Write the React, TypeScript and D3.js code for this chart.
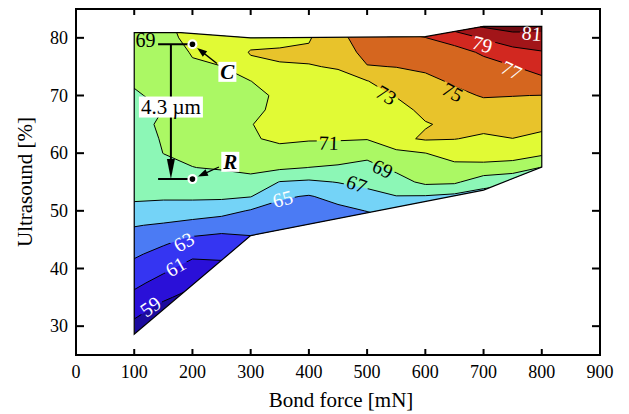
import React from "react";
import * as d3 from "d3";

// Bond force columns [mN] and ultrasound rows [%] of the sampled field
const forces = [100, 150, 200, 250, 300, 350, 400, 450, 500, 550, 600, 650, 700, 750, 800];
const ultrasound = [25, 27.5, 30, 32.5, 35, 37.5, 40, 42.5, 45, 47.5, 50, 52.5, 55, 57.5, 60, 62.5, 65, 67.5, 70, 72.5, 75, 77.5, 80, 82.5, 85];

// value at each (force, ultrasound); one array per bond force, bottom to top
const f100 = [56.5, 57.5, 58.5, 59.5, 60.5, 61.44, 62.37, 63.29, 64.18, 65.1, 66.38, 67.35, 67.5, 67.63, 67.87, 68.12, 68.37, 68.62, 68.87, 69.13, 69.39, 69.33, 69.06, 68.8, 68.6];
const f150 = [55.1, 56.14, 57.19, 58.24, 59.29, 60.35, 61.38, 62.37, 63.47, 64.79, 66.2, 67.27, 67.88, 68.49, 69.02, 69.16, 69.3, 69.01, 69.27, 69.58, 69.9, 70.12, 70.33, 70.52, 70.7];
const f200 = [54.2, 55.2, 56.3, 57.3, 58.37, 59.38, 60.32, 61.35, 62.62, 64.32, 66.03, 67.33, 68.16, 68.98, 69.25, 69.51, 69.77, 70.03, 70.29, 70.55, 70.8, 71.12, 71.6, 71.95, 72.3];
const f250 = [54.6, 55.6, 56.55, 57.5, 58.5, 59.47, 60.45, 61.43, 62.41, 63.8, 65.74, 67.34, 68.4, 69.12, 69.39, 69.66, 69.92, 70.19, 70.46, 70.73, 70.98, 71.46, 71.93, 72.2, 72.5];
const f300 = [54.1, 55.1, 56.2, 57.3, 58.4, 59.45, 60.5, 61.6, 62.7, 63.77, 64.83, 67.08, 68.47, 69.42, 70.1, 70.78, 70.95, 70.85, 70.9, 70.98, 72.44, 73.15, 72.2, 72.0, 71.9];
const f350 = [56.1, 56.9, 57.7, 58.6, 59.4, 60.2, 61.0, 61.85, 62.67, 63.49, 64.31, 65.27, 66.93, 69.33, 70.26, 71.39, 71.5, 71.15, 71.06, 71.98, 72.85, 73.3, 72.3, 72.1, 72.0];
const f400 = [55.5, 56.35, 57.2, 58.05, 58.9, 59.75, 60.6, 61.45, 62.3, 63.17, 64.02, 64.86, 66.68, 68.98, 70.25, 71.14, 71.5, 71.86, 72.22, 72.58, 72.94, 73.25, 72.85, 72.6, 72.4];
const f450 = [55.8, 56.6, 57.5, 58.4, 59.3, 60.1, 61.0, 61.9, 62.75, 63.63, 64.5, 65.63, 67.07, 68.73, 70.14, 71.14, 71.52, 71.9, 72.28, 72.66, 73.08, 73.76, 74.45, 75.1, 75.8];
const f500 = [55.0, 56.0, 57.0, 58.0, 58.9, 60.0, 60.9, 62.0, 62.9, 64.0, 65.05, 66.4, 67.5, 68.39, 69.57, 71.09, 71.56, 72.02, 72.48, 72.94, 74.9, 75.7, 76.0, 76.3, 76.7];
const f550 = [55.6, 56.6, 57.6, 58.6, 59.6, 60.6, 61.6, 62.6, 63.6, 64.6, 65.7, 66.95, 68.23, 69.43, 70.49, 72.6, 71.88, 72.47, 73.08, 74.06, 75.04, 75.93, 76.83, 77.3, 77.8];
const f600 = [54.5, 55.6, 56.7, 57.9, 59.1, 60.1, 61.2, 62.4, 63.5, 64.6, 65.74, 66.87, 69.44, 70.22, 70.98, 73.2, 72.9, 73.37, 73.99, 74.6, 75.3, 76.13, 76.97, 77.8, 78.6];
const f650 = [54.1, 55.2, 56.4, 57.5, 58.6, 59.8, 60.9, 62.0, 63.1, 64.2, 65.4, 66.5, 69.33, 70.5, 71.75, 73.05, 73.3, 74.0, 74.6, 75.22, 75.89, 76.4, 77.7, 80.6, 82.0];
const f700 = [53.7, 54.8, 55.9, 57.1, 58.2, 59.3, 60.5, 61.6, 62.7, 63.85, 64.98, 66.1, 67.77, 70.55, 71.75, 72.7, 73.54, 74.34, 75.12, 75.77, 76.42, 77.23, 79.2, 81.7, 83.5];
const f750 = [53.6, 54.7, 55.8, 56.9, 58.1, 59.2, 60.3, 61.5, 62.6, 63.7, 64.85, 65.97, 67.24, 70.2, 71.84, 72.98, 73.68, 74.35, 75.04, 75.97, 76.91, 78.39, 80.05, 82.4, 84.0];
const f800 = [53.3, 54.4, 55.6, 56.7, 57.8, 58.9, 60.0, 61.2, 62.3, 63.4, 64.5, 65.65, 66.77, 68.9, 71.41, 72.55, 73.45, 74.21, 74.97, 76.52, 77.77, 78.87, 80.38, 81.9, 83.5];
const zByForce = [f100, f150, f200, f250, f300, f350, f400, f450, f500, f550, f600, f650, f700, f750, f800];

// contour levels and band colours (below first level ... above last level)
const levels = [59, 61, 63, 65, 67, 69, 71, 73, 75, 77, 79, 81];
const bandColors = ["#1c0b9e", "#2a10d8", "#3535f2", "#4b7bf4", "#74d3f7", "#8cf7b6", "#abf864", "#e1fa35", "#e8c32b", "#d5661f", "#d22820", "#a21519", "#6e0a10"];

// measured domain (bond force, ultrasound)
const hull: [number, number][] = [
  [100, 80.9], [100, 28.6], [300, 45.7], [700, 53.6], [800, 57.6],
  [800, 82], [700, 82], [600, 80.2], [300, 80], [180, 80.9],
];

const xTicks = [0, 100, 200, 300, 400, 500, 600, 700, 800, 900];
const yTicks = [30, 40, 50, 60, 70, 80];

// inline contour labels: text, force, ultrasound, angle, light text
const labelText = ["81", "79", "77", "75", "73", "71", "69", "67", "65", "63", "61", "59", "69"];
const labelForce = [783, 698, 748, 647, 533, 434, 527, 482, 355, 185, 171, 128, 119.5];
const labelUS = [80.8, 78.9, 74.4, 70.6, 70.1, 61.8, 57.3, 54.7, 52.1, 44.6, 40.3, 33.4, 79.6];
const labelAngle = [5, 15, 25, 28, 30, 2, 25, 20, -15, -30, -30, -35, 0];
const labelLight = [true, true, true, false, false, false, false, false, true, true, true, true, false];

// marked points
const markName = ["C", "R"];
const markForce = [200, 200];
const markUS = [78.9, 55.5];
const markLabelForce = [260, 265];
const markLabelUS = [74.1, 58.5];
const spanForce = 163;
const spanBarFrom = 141;
const spanLabel = "4.3 µm";
const spanLabelUS = 68.0;

const FONT = "'Liberation Serif', 'DejaVu Serif', serif";

export default function App() {
  const width = 629, height = 414;
  const left = 76, right = 600, top = 9, bottom = 355;
  const x = d3.scaleLinear().domain([0, 900]).range([left, right]);
  const y = d3.scaleLinear().domain([25, 85]).range([bottom, top]);

  const n = forces.length, m = ultrasound.length;
  const values: number[] = [];
  for (let j = 0; j < m; j++) for (let i = 0; i < n; i++) values.push(zByForce[i][j]);
  const polys = d3.contours().size([n, m]).thresholds(levels)(values);
  const dF = forces[1] - forces[0];
  const dU = ultrasound[1] - ultrasound[0];
  const proj = d3.geoTransform({
    point(px: number, py: number) {
      (this as any).stream.point(x(forces[0] + (px - 0.5) * dF), y(ultrasound[0] + (py - 0.5) * dU));
    },
  });
  const path = d3.geoPath(proj as any);
  const hullD = (d3.line()(hull.map(([f, u]) => [x(f), y(u)] as [number, number])) || "") + "Z";

  const arrowHead = (x1: number, y1: number, x2: number, y2: number, len: number, hw: number) => {
    const dx = x2 - x1, dy = y2 - y1;
    const L = Math.hypot(dx, dy);
    const ux = dx / L, uy = dy / L;
    const bx = x2 - ux * len, by = y2 - uy * len;
    return `M${x2},${y2}L${bx - uy * hw},${by + ux * hw}L${bx + uy * hw},${by - ux * hw}Z`;
  };

  const spanX = x(spanForce);
  const topY = y(markUS[0]);
  const botY = y(markUS[1]);

  return (
    <svg width={width} height={height} style={{ position: "absolute", left: 0, top: 0, background: "#fff" }}>
      <defs>
        <clipPath id="hullClip">
          <path d={hullD} />
        </clipPath>
        <mask id="labelMask" maskUnits="userSpaceOnUse" x={0} y={0} width={width} height={height}>
          <rect x={0} y={0} width={width} height={height} fill="#fff" />
          {labelText.map((t, k) => (
            <rect
              key={k}
              x={-12}
              y={-7}
              width={24}
              height={14}
              fill="#000"
              transform={`translate(${x(labelForce[k])},${y(labelUS[k])}) rotate(${labelAngle[k]})`}
            />
          ))}
        </mask>
      </defs>

      <g clipPath="url(#hullClip)">
        <path d={hullD} fill={bandColors[0]} />
        {polys.map((p, k) => (
          <path key={k} d={path(p as any) || ""} fill={bandColors[k + 1]} />
        ))}
        <g mask="url(#labelMask)">
          {polys.map((p, k) => (
            <path key={k} d={path(p as any) || ""} fill="none" stroke="#000" strokeWidth={1} />
          ))}
        </g>
      </g>
      <path d={hullD} fill="none" stroke="#000" strokeWidth={1.2} />

      {labelText.map((t, k) => (
        <text
          key={k}
          transform={`translate(${x(labelForce[k])},${y(labelUS[k])}) rotate(${labelAngle[k]})`}
          textAnchor="middle"
          dominantBaseline="central"
          fontFamily={FONT}
          fontSize={20}
          fill={labelLight[k] ? "#fff" : "#000"}
        >
          {t}
        </text>
      ))}

      {/* span annotation */}
      <line x1={x(spanBarFrom)} x2={x(markForce[0])} y1={topY} y2={topY} stroke="#000" strokeWidth={2} />
      <line x1={x(spanBarFrom)} x2={x(markForce[1])} y1={botY} y2={botY} stroke="#000" strokeWidth={2} />
      <line x1={spanX} x2={spanX} y1={topY} y2={botY - 10} stroke="#000" strokeWidth={2} />
      <path d={arrowHead(spanX, topY, spanX, botY, 20, 4)} fill="#000" />
      <rect x={spanX - 32} y={y(spanLabelUS) - 10.5} width={64} height={21} fill="#fff" />
      <text x={spanX} y={y(spanLabelUS)} textAnchor="middle" dominantBaseline="central" fontFamily={FONT} fontSize={21} fill="#000">
        {spanLabel}
      </text>

      {markName.map((nm, k) => {
        const px = x(markForce[k]), py = y(markUS[k]);
        const lx = x(markLabelForce[k]), ly = y(markLabelUS[k]);
        const dx = px - lx, dy = py - ly;
        const L = Math.hypot(dx, dy);
        const sx = lx + dx * 0.3, sy = ly + dy * 0.3;
        const ex = px - (dx / L) * 6, ey = py - (dy / L) * 6;
        return (
          <g key={nm}>
            <line x1={sx} y1={sy} x2={ex - (dx / L) * 6} y2={ey - (dy / L) * 6} stroke="#000" strokeWidth={1.3} />
            <path d={arrowHead(sx, sy, ex, ey, 10, 3.5)} fill="#000" />
            <circle cx={px} cy={py} r={5} fill="#fff" />
            <circle cx={px} cy={py} r={2.8} fill="#000" />
            <rect x={lx - 9} y={ly - 10} width={18} height={20} fill="#fff" />
            <text x={lx} y={ly} textAnchor="middle" dominantBaseline="central" fontFamily={FONT} fontSize={21} fontWeight="bold" fontStyle="italic" fill="#000">
              {nm}
            </text>
          </g>
        );
      })}

      {/* frame and ticks */}
      <rect x={left} y={top} width={right - left} height={bottom - top} fill="none" stroke="#000" strokeWidth={2} />
      {xTicks.map((t) => (
        <g key={"x" + t}>
          <line x1={x(t)} x2={x(t)} y1={bottom} y2={bottom - 6} stroke="#000" strokeWidth={2} />
          <line x1={x(t)} x2={x(t)} y1={top} y2={top + 6} stroke="#000" strokeWidth={2} />
          <text x={x(t)} y={378} textAnchor="middle" fontFamily={FONT} fontSize={18} fill="#000">
            {t}
          </text>
        </g>
      ))}
      {yTicks.map((t) => (
        <g key={"y" + t}>
          <line x1={left} x2={left + 8} y1={y(t)} y2={y(t)} stroke="#000" strokeWidth={2} />
          <line x1={right} x2={right - 8} y1={y(t)} y2={y(t)} stroke="#000" strokeWidth={2} />
          <text x={68} y={y(t)} textAnchor="end" dominantBaseline="central" fontFamily={FONT} fontSize={18} fill="#000">
            {t}
          </text>
        </g>
      ))}
      <text x={(left + right) / 2 + 3} y={407} textAnchor="middle" fontFamily={FONT} fontSize={21} fill="#000">
        Bond force [mN]
      </text>
      <text transform={`translate(32,${(top + bottom) / 2}) rotate(-90)`} textAnchor="middle" fontFamily={FONT} fontSize={21} fill="#000">
        Ultrasound [%]
      </text>
    </svg>
  );
}
